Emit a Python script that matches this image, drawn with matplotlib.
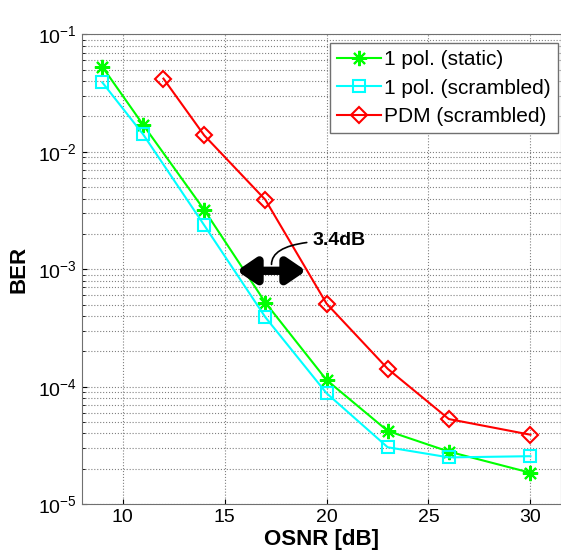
import numpy as np
import matplotlib
matplotlib.use('Agg')
import matplotlib.pyplot as plt
from matplotlib.ticker import LogLocator, NullFormatter

plt.rcParams['font.family'] = ['Liberation Sans', 'DejaVu Sans']
plt.rcParams['mathtext.fontset'] = 'custom'
plt.rcParams['mathtext.rm'] = 'Liberation Sans'
plt.rcParams['mathtext.it'] = 'Liberation Sans'

# data
osnr_1pol = [9, 11, 14, 17, 20, 23, 26, 30]
ber_static = [5.3e-2, 1.7e-2, 3.2e-3, 5.2e-4, 1.14e-4, 4.2e-5, 2.8e-5, 1.85e-5]
ber_scrambled = [3.9e-2, 1.41e-2, 2.37e-3, 3.9e-4, 8.8e-5, 3.05e-5, 2.5e-5, 2.56e-5]
osnr_pdm = [12, 14, 17, 20, 23, 26, 30]
ber_pdm = [4.2e-2, 1.38e-2, 3.9e-3, 5.1e-4, 1.42e-4, 5.3e-5, 3.9e-5]

labels = ['1 pol. (static)', '1 pol. (scrambled)', 'PDM (scrambled)']
xticks = [10, 15, 20, 25, 30]

fig = plt.figure(figsize=(5.61, 5.54), dpi=100)
ax = fig.add_axes([0.146, 0.090, 0.854, 0.848])

ax.semilogy(osnr_1pol, ber_static, color='#00ff00', lw=1.5, marker=(8, 2, 0),
            ms=11, mew=1.5, label=labels[0])
ax.semilogy(osnr_1pol, ber_scrambled, color='#00ffff', lw=1.5, marker='s',
            ms=9, mew=1.5, mfc='none', label=labels[1])
ax.semilogy(osnr_pdm, ber_pdm, color='#ff0000', lw=1.5, marker='D',
            ms=8, mew=1.5, mfc='none', label=labels[2])

ax.set_xlim(8, 31.5)
ax.set_ylim(1e-5, 1e-1)
ax.set_xticks(xticks)
ax.yaxis.set_major_locator(LogLocator(base=10, numticks=10))
ax.yaxis.set_minor_locator(LogLocator(base=10, subs=np.arange(2, 10), numticks=20))
ax.yaxis.set_minor_formatter(NullFormatter())
ax.grid(True, which='major', axis='both', color='#808080', ls=':', lw=0.8)
ax.grid(True, which='minor', axis='y', color='#808080', ls=':', lw=0.8)
ax.tick_params(which='both', direction='in', labelsize=14)
ax.tick_params(which='minor', length=2)
for s in ax.spines.values():
    s.set_color('#707070')

ax.set_xlabel('OSNR [dB]', fontsize=16, fontweight='bold', labelpad=2)
ax.set_ylabel('BER', fontsize=16, fontweight='bold', labelpad=6)

# 3.4 dB penalty arrow
ax.annotate('', xy=(15.6, 9.7e-4), xytext=(19.0, 9.7e-4),
            arrowprops=dict(arrowstyle='<|-|>,head_length=1.1,head_width=0.75',
                            color='black', lw=6, shrinkA=0, shrinkB=0))
ax.annotate('3.4dB', xy=(17.3, 1.1e-3), xytext=(19.3, 1.75e-3),
            fontsize=14, fontweight='bold', va='center', ha='left',
            arrowprops=dict(arrowstyle='-', color='black', lw=1.2,
                            connectionstyle='angle3,angleA=0,angleB=90',
                            shrinkA=2, shrinkB=0))

leg = ax.legend(loc='upper right', bbox_to_anchor=(558 / 561, 1 - 43 / 554),
                bbox_transform=fig.transFigure, fontsize=15, fancybox=False,
                framealpha=1, edgecolor='#707070', borderpad=0.35,
                labelspacing=0.45, handlelength=2.1, handletextpad=0.15,
                borderaxespad=0)
leg.get_frame().set_linewidth(1.0)

fig.savefig('out.png', dpi=100)
